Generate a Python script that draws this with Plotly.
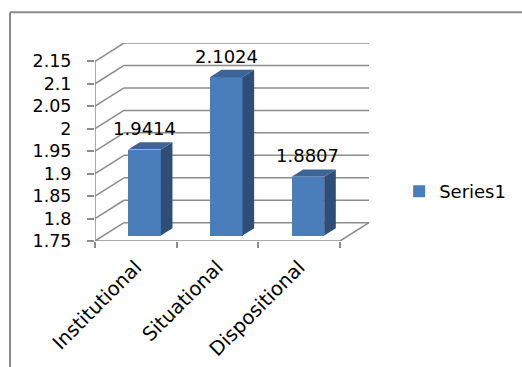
import plotly.graph_objects as go

categories = ["Institutional", "Situational", "Dispositional"]
values = [1.9414, 2.1024, 1.8807]
series_name = "Series1"
y_ticks = [1.75, 1.8, 1.85, 1.9, 1.95, 2.0, 2.05, 2.1, 2.15]
y_ticktext = ["1.75", "1.8", "1.85", "1.9", "1.95", "2", "2.05", "2.1", "2.15"]

# oblique 3D depth offsets (in axis units)
DX = 0.355
DY = 0.0407
BASE = y_ticks[0]
TOP = y_ticks[-1]
F0, F1 = 0.3, 0.7   # bar front / back depth fractions
HW = 0.2            # half bar width

GRID = "#8c8c8c"
FRONT = "#4a7ebb"
SIDE = "#2f4d75"
TOPC = "#3c6597"
FONT = "DejaVu Sans"

n = len(categories)
xl, xr = -0.5, n - 0.5

fig = go.Figure()

# front faces as bars
fig.add_trace(go.Bar(
    x=[i + F0 * DX for i in range(n)],
    y=[v - BASE for v in values],
    base=[BASE + F0 * DY] * n,
    width=2 * HW,
    marker=dict(color=FRONT, line=dict(width=0)),
    name=series_name, showlegend=True, hoverinfo="skip",
))

for i, v in enumerate(values):
    xr_f = i + HW + F0 * DX
    xr_b = i + HW + F1 * DX
    xl_f = i - HW + F0 * DX
    xl_b = i - HW + F1 * DX
    # side face
    fig.add_trace(go.Scatter(
        x=[xr_f, xr_b, xr_b, xr_f, xr_f],
        y=[BASE + F0 * DY, BASE + F1 * DY, v + F1 * DY, v + F0 * DY, BASE + F0 * DY],
        fill="toself", fillcolor=SIDE, mode="lines", line=dict(width=0, color=SIDE),
        showlegend=False, hoverinfo="skip"))
    # top face
    fig.add_trace(go.Scatter(
        x=[xl_f, xr_f, xr_b, xl_b, xl_f],
        y=[v + F0 * DY, v + F0 * DY, v + F1 * DY, v + F1 * DY, v + F0 * DY],
        fill="toself", fillcolor=TOPC, mode="lines", line=dict(width=0, color=TOPC),
        showlegend=False, hoverinfo="skip"))

annotations = []
for i, v in enumerate(values):
    annotations.append(dict(
        x=i + F0 * DX, y=v + F0 * DY, xref="x", yref="y",
        text=f"{v:.4f}", showarrow=False, yanchor="middle", xanchor="center",
        yshift=21, font=dict(family=FONT, size=18, color="#000000")))

shapes = []
gl = dict(color=GRID, width=1.5)
for t in y_ticks:
    # back wall gridline
    shapes.append(dict(type="line", xref="x", yref="y", x0=xl + DX, y0=t + DY, x1=xr + DX, y1=t + DY,
                       line=gl, layer="below"))
    # side wall gridline
    shapes.append(dict(type="line", xref="x", yref="y", x0=xl, y0=t, x1=xl + DX, y1=t + DY,
                       line=gl, layer="below"))
# front floor edge and right floor edge
shapes.append(dict(type="line", xref="x", yref="y", x0=xl, y0=BASE, x1=xr, y1=BASE, line=gl, layer="below"))
shapes.append(dict(type="line", xref="x", yref="y", x0=xr, y0=BASE, x1=xr + DX, y1=BASE + DY, line=gl, layer="below"))
# front vertical axis
shapes.append(dict(type="line", xref="x", yref="y", x0=xl, y0=BASE, x1=xl, y1=TOP, line=gl, layer="below"))
# outer chart border (cropped)
shapes.append(dict(type="line", xref="paper", yref="paper", x0=-85 / 274, y0=1 + 30.7 / 198.3,
                   x1=1.6, y1=1 + 30.7 / 198.3, line=dict(color="#8a8a8a", width=2)))
shapes.append(dict(type="line", xref="paper", yref="paper", x0=-85 / 274, y0=1 + 30.7 / 198.3,
                   x1=-85 / 274, y1=-1, line=dict(color="#8a8a8a", width=2)))

fig.update_layout(
    width=522, height=367,
    margin=dict(l=95, r=153, t=43, b=126, autoexpand=False),
    paper_bgcolor="white", plot_bgcolor="rgba(0,0,0,0)",
    shapes=shapes,
    annotations=annotations,
    showlegend=True,
    legend=dict(x=1.11, y=0.25, xanchor="left", yanchor="middle",
                font=dict(family=FONT, size=18, color="#000000"),
                bgcolor="rgba(0,0,0,0)", itemwidth=30),
    font=dict(family=FONT, size=18, color="#000000"),
    bargap=0,
)
fig.update_xaxes(
    range=[xl, xr + DX], showgrid=False, zeroline=False, showline=False, automargin=False,
    tickmode="array", tickvals=list(range(n)), ticktext=categories, ticks="",
    tickangle=-45, tickfont=dict(family=FONT, size=19.5),
    ticklabelstandoff=10,
    minor=dict(tickmode="array", tickvals=[xl + k for k in range(n + 1)], ticks="outside",
               ticklen=6, tickcolor=GRID, tickwidth=1.5, showgrid=False),
)
fig.update_yaxes(
    range=[BASE, TOP + DY], showgrid=False, zeroline=False, showline=False, automargin=False,
    tickmode="array", tickvals=y_ticks, ticktext=y_ticktext,
    ticks="outside", ticklen=7, tickcolor=GRID, tickwidth=1.5,
    ticklabelstandoff=12,
    tickfont=dict(family=FONT, size=17.5),
)

fig.write_html("out.html")
